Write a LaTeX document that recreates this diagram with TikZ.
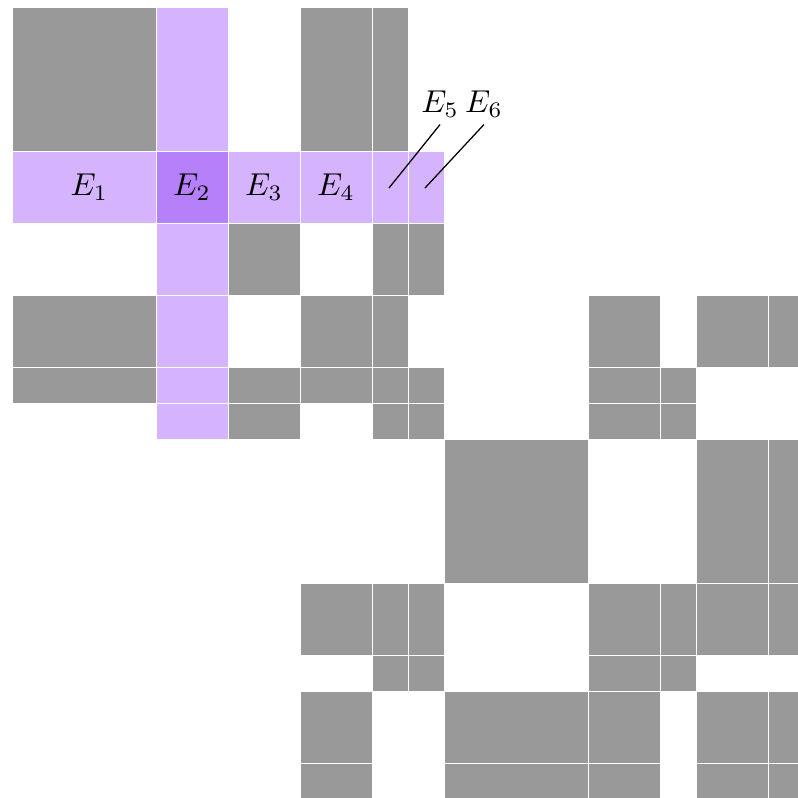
\documentclass[tikz,border=0pt]{standalone}
\usepackage{tikz}

\definecolor{blockgray}{RGB}{153,153,153}
\definecolor{elimlight}{RGB}{213,180,253}
\definecolor{elimdark}{RGB}{181,128,249}

\begin{document}
\begin{tikzpicture}[x=0.4cm,y=-0.4cm]
        \tikzstyle{blk}=[draw=white, line width=0.25pt]
        \tikzstyle{lbl}=[anchor=base, inner sep=2pt]

        \useasboundingbox (-0.333,-0.194) rectangle (21.833,21.972);
        \clip (-0.333,-0.194) rectangle (21.833,21.972);

        % block boundaries
        \def\cuts{{0,4,6,8,10,11,12,16,18,19,21,22}}

        % nonzero blocks
        \foreach \i/\j in {0/0,0/3,0/4, 2/2,2/4,2/5,
            3/0,3/3,3/4,3/7,3/9,3/10, 4/0,4/2,4/3,4/4,4/5,4/7,4/8,
            5/2,5/4,5/5,5/7,5/8, 6/6,6/9,6/10,
            7/3,7/4,7/5,7/7,7/8,7/9,7/10, 8/4,8/5,8/7,8/8,
            9/3,9/6,9/7,9/9,9/10, 10/3,10/6,10/7,10/9,10/10} {
            \pgfmathtruncatemacro\ii{\i+1}
            \pgfmathtruncatemacro\jj{\j+1}
            \pgfmathsetmacro\xa{\cuts[\j]}
            \pgfmathsetmacro\xb{\cuts[\jj]}
            \pgfmathsetmacro\ya{\cuts[\i]}
            \pgfmathsetmacro\yb{\cuts[\ii]}
            \filldraw[blk, fill=blockgray] (\xa,\ya) rectangle (\xb,\yb);
        }

        % eliminated row and column
        \foreach \i/\j/\c in {1/0/elimlight,1/2/elimlight,1/3/elimlight,1/4/elimlight,1/5/elimlight,
            0/1/elimlight,2/1/elimlight,3/1/elimlight,4/1/elimlight,5/1/elimlight,1/1/elimdark} {
            \pgfmathtruncatemacro\ii{\i+1}
            \pgfmathtruncatemacro\jj{\j+1}
            \pgfmathsetmacro\xa{\cuts[\j]}
            \pgfmathsetmacro\xb{\cuts[\jj]}
            \pgfmathsetmacro\ya{\cuts[\i]}
            \pgfmathsetmacro\yb{\cuts[\ii]}
            \filldraw[blk, fill=\c] (\xa,\ya) rectangle (\xb,\yb);
        }

        \node (e1) at (2.15,5) {$E_1$};
        \node (e2) at (5,5) {$E_2$};
        \node (e3) at (7,5) {$E_3$};
        \node (e4) at (9,5) {$E_4$};

        \node[lbl] (e5) at (11.89,2.94) {$E_5$};
        \node[lbl] (e6) at (13.11,2.94) {$E_6$};
        \coordinate (p5) at (10.47,5.03);
        \coordinate (p6) at (11.47,5.03);
        \draw (e5.south) -- (p5);
        \draw (e6.south) -- (p6);
\end{tikzpicture}
\end{document}
